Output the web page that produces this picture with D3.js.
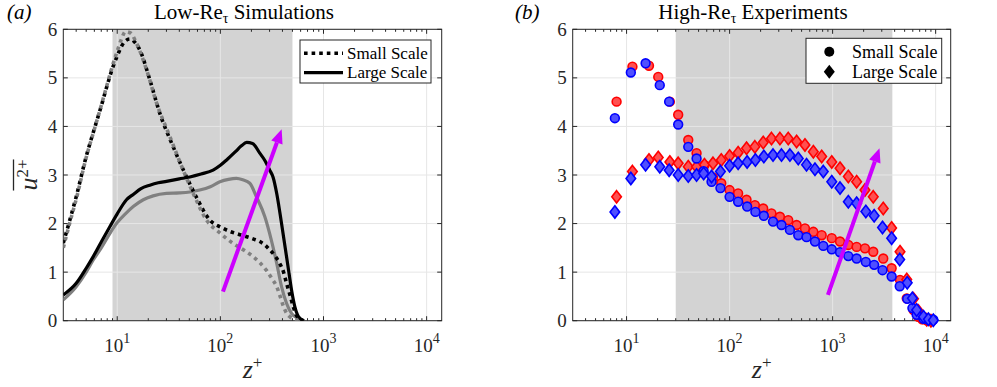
<!DOCTYPE html>
<html>
<head>
<meta charset="utf-8">
<script src="https://cdn.jsdelivr.net/npm/d3@7"></script>
<style>
  body { margin: 0; background: #fff; }
  svg { font-family: "Liberation Serif", "Times New Roman", serif; }
</style>
</head>
<body>
<svg id="chart" width="997" height="387"></svg>
<script>
// ---- (a) low-Re simulations : z+ and u'2+
const simSmallHiZ = [3, 3.5, 4, 5, 6, 7, 8, 9, 10, 11, 12, 13.3, 15, 16.6, 20.7, 25.9, 34.9, 47, 60, 79, 100, 123, 150, 180, 210, 241, 270, 301, 340, 376, 410, 438, 470, 509, 550, 590, 630];
const simSmallHi  = [1.6, 2.1, 2.55, 3.38, 3.95, 4.42, 4.85, 5.2, 5.45, 5.65, 5.76, 5.8, 5.72, 5.57, 4.96, 4.27, 3.58, 2.96, 2.5, 2.07, 1.93, 1.84, 1.78, 1.73, 1.68, 1.63, 1.56, 1.46, 1.33, 1.18, 1.0, 0.77, 0.55, 0.29, 0.1, 0.04, 0.0];
const simSmallLoZ = [3, 3.5, 4, 5, 6, 7, 8, 9, 10, 11, 12, 13.5, 15.4, 19.3, 24.1, 32.4, 43.6, 54.6, 73.5, 100, 133, 170, 208, 240, 279, 320, 352, 380, 410, 440, 473, 520, 590];
const simSmallLo  = [1.5, 2.05, 2.5, 3.36, 3.94, 4.43, 4.87, 5.25, 5.55, 5.8, 5.95, 5.92, 5.71, 5.16, 4.48, 3.79, 3.10, 2.62, 2.07, 1.80, 1.59, 1.45, 1.32, 1.2, 1.04, 0.85, 0.70, 0.5, 0.29, 0.15, 0.08, 0.03, 0.0];
const simLargeHiZ = [3, 4, 5, 5.85, 7, 8.5, 10, 12.3, 14.3, 17, 20.7, 25, 30, 40, 50.6, 65, 85, 100, 115, 140, 160, 180, 205, 241, 270, 301, 325, 352, 392, 438, 465, 490, 527, 560, 590, 650];
const simLargeHi  = [0.53, 0.77, 1.08, 1.32, 1.62, 1.94, 2.2, 2.49, 2.6, 2.72, 2.79, 2.84, 2.87, 2.92, 2.96, 3.02, 3.10, 3.2, 3.31, 3.48, 3.6, 3.67, 3.65, 3.45, 3.3, 3.10, 2.95, 2.62, 2.0, 1.32, 0.95, 0.63, 0.29, 0.12, 0.05, 0.0];
const simLargeLoZ = [3, 4, 5, 5.85, 7, 8.5, 10, 12, 14.3, 17.9, 22.3, 30, 40, 50.6, 63, 80, 99, 120, 143, 165, 193, 224, 270, 312, 352, 392, 438, 490, 565, 620];
const simLargeLo  = [0.43, 0.70, 1.0, 1.25, 1.5, 1.80, 2.02, 2.2, 2.35, 2.49, 2.57, 2.62, 2.63, 2.65, 2.69, 2.76, 2.86, 2.91, 2.93, 2.9, 2.83, 2.55, 2.14, 1.66, 1.18, 0.70, 0.36, 0.15, 0.05, 0.0];

// ---- (b) high-Re experiments
const expRedZ = [8.0, 11.4, 16.5, 20.3, 26.3, 31.7, 39.7, 47.8, 57, 69, 83, 100, 121, 146, 176, 212, 255, 308, 371, 447, 539, 650, 783, 981, 1180, 1420, 1710, 2060, 2480, 3100, 3740, 4510, 5240, 6100, 6800, 7400, 8200, 9000];
const expRedSmall = [4.51, 5.23, 5.25, 5.02, 4.51, 4.24, 3.72, 3.45, 3.2, 2.95, 2.83, 2.69, 2.62, 2.49, 2.38, 2.31, 2.21, 2.14, 2.07, 1.97, 1.90, 1.83, 1.76, 1.70, 1.63, 1.56, 1.52, 1.49, 1.42, 1.28, 1.08, 0.84, 0.46, 0.22, 0.08, 0.03, 0.01, 0.0];
const expRedLarge = [2.55, 3.07, 3.31, 3.36, 3.27, 3.24, 3.17, 3.17, 3.21, 3.24, 3.31, 3.39, 3.46, 3.55, 3.58, 3.67, 3.75, 3.75, 3.75, 3.69, 3.62, 3.48, 3.38, 3.27, 3.14, 2.97, 2.86, 2.69, 2.55, 2.31, 1.91, 1.42, 0.85, 0.45, 0.2, 0.07, 0.02, 0.0];
const expBlueZ = [7.7, 11.0, 15.3, 21.0, 25.9, 31.7, 39.7, 47.8, 56, 66.8, 81.5, 100, 121, 148, 178, 215, 264, 319, 385, 464, 558, 674, 812, 981, 1180, 1420, 1710, 2100, 2530, 3050, 3740, 4480, 5300, 5950, 6540, 7620, 8500, 9490];
const expBlueSmall = [4.17, 5.11, 5.30, 4.85, 4.51, 4.04, 3.58, 3.34, 3.08, 2.86, 2.73, 2.55, 2.45, 2.35, 2.24, 2.16, 2.04, 1.97, 1.87, 1.76, 1.72, 1.63, 1.54, 1.47, 1.41, 1.33, 1.28, 1.21, 1.15, 1.04, 0.91, 0.71, 0.45, 0.26, 0.12, 0.04, 0.02, 0.02];
const expBlueLarge = [2.24, 2.93, 3.21, 3.17, 3.10, 3.00, 2.98, 3.00, 3.03, 2.97, 3.07, 3.19, 3.24, 3.27, 3.31, 3.38, 3.41, 3.41, 3.41, 3.34, 3.21, 3.12, 3.07, 2.86, 2.73, 2.45, 2.42, 2.25, 2.16, 1.92, 1.70, 1.26, 0.78, 0.46, 0.22, 0.08, 0.03, 0.01];

// shaded bands, arrows, axes
const simBand = [9, 500];
const expBand = [30, 3800];
const simArrow = [[106, 0.6], [393, 3.94]];
const expArrow = [[900, 0.53], [2850, 3.55]];
const xDomain = [3, 14000];
const xTickExps = [1, 2, 3, 4];
const yTicks = [0, 1, 2, 3, 4, 5, 6];
const legendLabels = ["Small Scale", "Large Scale"];

const svg = d3.select("#chart");
const axisColor = "#262626";
const yTop = 29.3, yBot = 320.7;
const magenta = "#cc00ff";
const dots = "3.6,4";

function makePanel(left, right, band, id) {
  const x = d3.scaleLog().domain(xDomain).range([left, right]);
  const y = d3.scaleLinear().domain([0, 6]).range([yBot, yTop]);
  const g = svg.append("g");

  g.append("clipPath").attr("id", "clip" + id)
    .append("rect").attr("x", left).attr("y", yTop).attr("width", right - left).attr("height", yBot - yTop);

  g.append("rect")
    .attr("x", x(band[0])).attr("y", yTop)
    .attr("width", x(band[1]) - x(band[0])).attr("height", yBot - yTop)
    .attr("fill", "#d3d3d3");

  // grid
  const majors = xTickExps.map(e => Math.pow(10, e));
  g.selectAll(".gx").data(majors).enter().append("line")
    .attr("x1", d => x(d)).attr("x2", d => x(d))
    .attr("y1", yTop).attr("y2", yBot)
    .attr("stroke", "#e6e6e6").attr("stroke-width", 1);
  g.selectAll(".gy").data(yTicks).enter().append("line")
    .attr("x1", left).attr("x2", right)
    .attr("y1", d => y(d)).attr("y2", d => y(d))
    .attr("stroke", "#e6e6e6").attr("stroke-width", 1);

  // inward ticks, bottom/top/left/right
  const minors = x.ticks().filter(v => !majors.includes(v) && v > xDomain[0]);
  const tickG = g.append("g").attr("stroke", axisColor).attr("stroke-width", 1);
  [[minors, 2.5], [majors, 4.5]].forEach(([vals, len]) => {
    vals.forEach(v => {
      tickG.append("line").attr("x1", x(v)).attr("x2", x(v)).attr("y1", yBot).attr("y2", yBot - len);
      tickG.append("line").attr("x1", x(v)).attr("x2", x(v)).attr("y1", yTop).attr("y2", yTop + len);
    });
  });
  yTicks.forEach(v => {
    tickG.append("line").attr("x1", left).attr("x2", left + 4.5).attr("y1", y(v)).attr("y2", y(v));
    tickG.append("line").attr("x1", right).attr("x2", right - 4.5).attr("y1", y(v)).attr("y2", y(v));
  });

  g.append("rect")
    .attr("x", left).attr("y", yTop).attr("width", right - left).attr("height", yBot - yTop)
    .attr("fill", "none").attr("stroke", axisColor).attr("stroke-width", 1);

  // tick labels
  g.selectAll(".yl").data(yTicks).enter().append("text")
    .attr("x", left - 6).attr("y", d => y(d) + 6.5)
    .attr("text-anchor", "end").attr("font-size", 19).attr("fill", axisColor)
    .text(d => d);
  xTickExps.forEach(e => {
    const t = g.append("text")
      .attr("x", x(Math.pow(10, e))).attr("y", 352)
      .attr("text-anchor", "middle").attr("font-size", 19).attr("fill", axisColor);
    t.append("tspan").text("10");
    t.append("tspan").attr("font-size", 14).attr("dy", -9).text(e);
  });

  // x label
  const xl = g.append("text")
    .attr("x", (left + right) / 2).attr("y", 378)
    .attr("text-anchor", "middle").attr("fill", axisColor);
  xl.append("tspan").attr("font-style", "italic").attr("font-size", 26).text("z");
  xl.append("tspan").attr("font-size", 17).attr("dy", -10).text("+");

  return { x, y, g, left, right };
}

function title(cx, lx, letter, sub) {
  svg.append("text").attr("x", lx).attr("y", 19)
    .attr("font-size", 21).attr("font-style", "italic").attr("fill", "#000")
    .text(letter);
  const t = svg.append("text").attr("x", cx).attr("y", 19)
    .attr("text-anchor", "middle").attr("font-size", 21).attr("fill", "#000");
  t.append("tspan").text(sub[0] + "-Re");
  t.append("tspan").attr("font-size", 14).attr("dy", 4).text("τ");
  t.append("tspan").attr("dy", -4).text(" " + sub[1]);
}

function arrow(p, pts) {
  const [x0, y0] = [p.x(pts[0][0]), p.y(pts[0][1])];
  const [x1, y1] = [p.x(pts[1][0]), p.y(pts[1][1])];
  const ang = Math.atan2(y1 - y0, x1 - x0);
  const hl = 14, hw = 6;
  const bx = x1 - hl * Math.cos(ang), by = y1 - hl * Math.sin(ang);
  p.g.append("line").attr("x1", x0).attr("y1", y0).attr("x2", bx).attr("y2", by)
    .attr("stroke", magenta).attr("stroke-width", 4);
  const nx = -Math.sin(ang), ny = Math.cos(ang);
  p.g.append("path")
    .attr("d", `M${x1},${y1}L${bx + hw * nx},${by + hw * ny}L${bx - hw * nx},${by - hw * ny}Z`)
    .attr("fill", magenta);
}

// ---------------- panel (a)
const pa = makePanel(63.3, 441.7, simBand, "a");
const lineA = d3.line().x(d => pa.x(d[0])).y(d => pa.y(d[1])).curve(d3.curveMonotoneX);
const simSeries = [
  { z: simLargeLoZ, v: simLargeLo, color: "#808080", dash: null },
  { z: simLargeHiZ, v: simLargeHi, color: "#000000", dash: null },
  { z: simSmallHiZ, v: simSmallHi, color: "#000000", dash: dots },
  { z: simSmallLoZ, v: simSmallLo, color: "#808080", dash: dots }
];
const curves = pa.g.append("g").attr("clip-path", "url(#clipa)");
simSeries.forEach(s => {
  curves.append("path")
    .datum(d3.zip(s.z, s.v))
    .attr("d", lineA)
    .attr("fill", "none")
    .attr("stroke", s.color)
    .attr("stroke-width", s.dash ? 3.6 : 3.2)
    .attr("stroke-dasharray", s.dash);
});
arrow(pa, simArrow);

// y label with overline
const yl = svg.append("g").attr("transform", "translate(37,175) rotate(-90)");
const ylt = yl.append("text").attr("text-anchor", "middle").attr("fill", axisColor);
ylt.append("tspan").attr("font-style", "italic").attr("font-size", 26).text("u");
ylt.append("tspan").attr("font-size", 17).attr("dy", -9).text("2+");
const ylb = ylt.node().getBBox();
yl.append("line").attr("x1", ylb.x).attr("x2", ylb.x + ylb.width)
  .attr("y1", -23.5).attr("y2", -23.5).attr("stroke", axisColor).attr("stroke-width", 1.3);

// legend (a)
const lga = svg.append("g");
lga.append("rect").attr("x", 300).attr("y", 40).attr("width", 131).attr("height", 43)
  .attr("fill", "#fff").attr("stroke", axisColor).attr("stroke-width", 1);
legendLabels.forEach((lab, i) => {
  const ly = 53.3 + i * 19.4;
  lga.append("line").attr("x1", 304).attr("x2", 343).attr("y1", ly).attr("y2", ly)
    .attr("stroke", "#000").attr("stroke-width", i ? 3.2 : 3.6)
    .attr("stroke-dasharray", i ? null : dots);
  lga.append("text").attr("x", 347).attr("y", ly + 5.5).attr("font-size", 17).attr("fill", "#000").text(lab);
});

title(244, 7, "(a)", ["Low", "Simulations"]);

// ---------------- panel (b)
const pb = makePanel(572.7, 950.7, expBand, "b");
const diamond = "M0,-6.2L4.8,0L0,6.2L-4.8,0Z";
const expSeries = [
  { z: expRedZ, v: expRedSmall, shape: "c", fill: "#ff5050", edge: "#ff0000" },
  { z: expRedZ, v: expRedLarge, shape: "d", fill: "#ff5050", edge: "#ff0000" },
  { z: expBlueZ, v: expBlueSmall, shape: "c", fill: "#5050ff", edge: "#0000ff" },
  { z: expBlueZ, v: expBlueLarge, shape: "d", fill: "#5050ff", edge: "#0000ff" }
];
const marks = pb.g.append("g");
expSeries.forEach(s => {
  const pts = d3.zip(s.z, s.v);
  if (s.shape === "c") {
    marks.append("g").selectAll("circle").data(pts).enter().append("circle")
      .attr("cx", d => pb.x(d[0])).attr("cy", d => pb.y(d[1])).attr("r", 4.4)
      .attr("fill", s.fill).attr("stroke", s.edge).attr("stroke-width", 1.6);
  } else {
    marks.append("g").selectAll("path").data(pts).enter().append("path")
      .attr("d", diamond)
      .attr("transform", d => `translate(${pb.x(d[0])},${pb.y(d[1])})`)
      .attr("fill", s.fill).attr("stroke", s.edge).attr("stroke-width", 1.6);
  }
});
arrow(pb, expArrow);

// legend (b)
const lgb = svg.append("g");
lgb.append("rect").attr("x", 806).attr("y", 38.3).attr("width", 135.7).attr("height", 45)
  .attr("fill", "#fff").attr("stroke", axisColor).attr("stroke-width", 1);
lgb.append("circle").attr("cx", 829.3).attr("cy", 51.7).attr("r", 5).attr("fill", "#000");
lgb.append("path").attr("d", "M0,-7L5.5,0L0,7L-5.5,0Z").attr("transform", "translate(829.3,71.7)").attr("fill", "#000");
legendLabels.forEach((lab, i) => {
  lgb.append("text").attr("x", 852).attr("y", 57.5 + i * 20).attr("font-size", 18).attr("fill", "#000").text(lab);
});

title(753, 515, "(b)", ["High", "Experiments"]);
</script>
</body>
</html>
